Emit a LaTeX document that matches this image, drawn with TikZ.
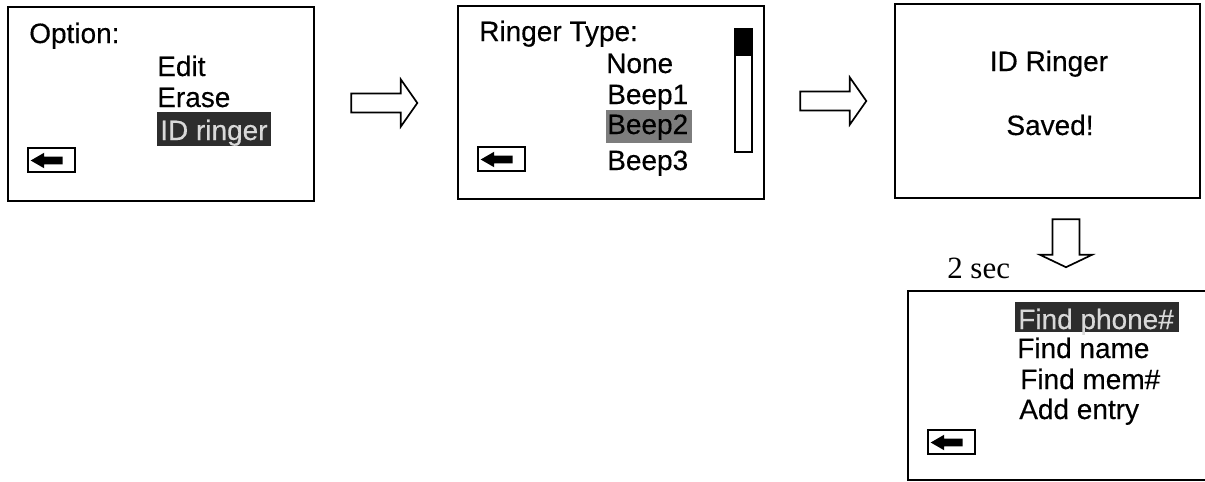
\documentclass[tikz,border=0pt]{standalone}
\usepackage{fontspec}
\setmainfont[FakeBold=0.35]{Liberation Sans}
\newfontfamily\serifnote{Liberation Serif}
\usetikzlibrary{positioning,shapes}
\definecolor{hlDark}{RGB}{45,45,45}
\definecolor{hlMid}{RGB}{125,125,125}
\begin{document}
\begin{tikzpicture}[
  x=0.025cm, y=-0.025cm,
  font=\fontsize{19.9}{24}\selectfont,
  screen/.style={draw, line width=1.3pt, anchor=north west, inner sep=0pt},
  item/.style={anchor=base west, inner sep=0pt},
  hlbox/.style={fill=hlDark, anchor=north west, inner sep=0pt},
  backkey/.style={draw, line width=1.3pt, minimum width=1.18cm, minimum height=0.6cm, inner sep=0pt},
  keyarr/.style={single arrow, fill=black, inner sep=0.0875cm, shape border rotate=180, minimum height=0.8cm,
    minimum width=0.375cm, single arrow head extend=0.1cm, single arrow tip angle=60, single arrow head indent=0pt},
  bigarr/.style={single arrow, draw, line width=1.2pt, single arrow head indent=0pt},
  harr/.style={bigarr, inner sep=0.18cm, minimum height=1.65cm, minimum width=1.18cm, single arrow head extend=0.3cm, single arrow tip angle=110},
  varr/.style={bigarr, inner sep=0.3cm, shape border rotate=270, minimum height=1.2cm, minimum width=1.3cm, single arrow head extend=0.3cm, single arrow tip angle=129},
]
\useasboundingbox (0,0) rectangle (1205,481);
% option menu
\node[screen, minimum width=7.65cm, minimum height=4.85cm] (optbox) at (7,6) {};
\node[item] (opthead) at (29,43) {Option:};
\node[item] (optedit) at (157,76) {Edit};
\node[item] (opterase) at (157,107) {Erase};
\node[hlbox, minimum width=2.83cm, minimum height=0.85cm] (opthl) at (157,112) {};
\node[item, text=white!85!black] (optid) at (160,140) {ID ringer};
\node[backkey] (optback) at (51.5,160) {};
\node[keyarr] (optbackarr) at (50,160.5) {};
% ringer type menu
\node[screen, minimum width=7.65cm, minimum height=4.83cm] (typebox) at (457,5) {};
\node[item] (typehead) at (479,41) {Ringer Type:};
\node[item] (typenone) at (606,73) {None};
\node[item] (typeone) at (607,104) {Beep1};
\node[hlbox, fill=hlMid, minimum width=2.13cm, minimum height=0.83cm] (typehl) at (606,110) {};
\node[item] (typetwo) at (607,134) {Beep2};
\node[item] (typethree) at (607,170) {Beep3};
\node[backkey] (typeback) at (501.5,159) {};
\node[keyarr] (typebackarr) at (500,159.5) {};
\node[screen, minimum width=0.42cm, minimum height=3.08cm] (typebar) at (734,28) {};
\node[screen, fill=black, minimum width=0.42cm, minimum height=0.65cm] (typeknob) at (734,28) {};
% saved message
\node[screen, minimum width=7.63cm, minimum height=4.85cm] (savedbox) at (894,3) {};
\node[anchor=base, inner sep=0pt] (savedid) at (1049,71) {ID Ringer};
\node[anchor=base, inner sep=0pt] (savedok) at (1050,135) {Saved!};
% phone book menu, cut off by the page
\coordinate (booktr) at (1205,291);
\coordinate (bookbr) at (1205,480);
\draw[line width=1.3pt] (booktr) -- (908,291) -- (908,480) -- (bookbr);
\node[hlbox, minimum width=4.08cm, minimum height=0.75cm] (bookhl) at (1015,302) {};
\node[item, text=white!85!black] (bookphone) at (1018,329) {Find phone\#};
\node[item] (bookname) at (1017,358) {Find name};
\node[item] (bookmem) at (1020,389) {Find mem\#};
\node[item] (bookadd) at (1019,419) {Add entry};
\node[backkey] (bookback) at (951.5,442) {};
\node[keyarr] (bookbackarr) at (950,442.5) {};
% block arrows
\node[harr] (next1) at (381,103) {};
\node[harr] (next2) at (830,101) {};
\node[varr] (next3) at (1066,240) {};
\node[anchor=base west, inner sep=0pt, font=\serifnote\fontsize{22}{26}\selectfont] (delay) at (947,278) {2 sec};
\end{tikzpicture}
\end{document}
